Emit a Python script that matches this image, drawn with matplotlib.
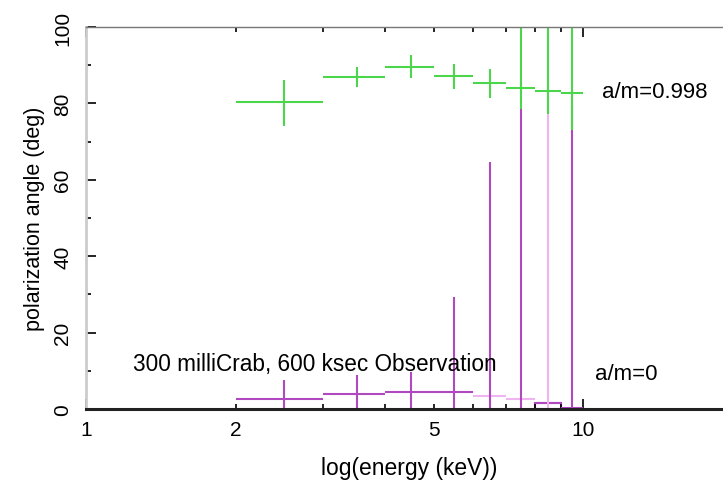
import matplotlib
matplotlib.use("Agg")
import matplotlib.pyplot as plt
import numpy as np

matplotlib.rcParams.update({
    'font.family': ['Liberation Sans', 'DejaVu Sans'],
    'font.size': 15,
})

# energy bins (keV): centres and half widths
energy = [2.5, 3.5, 4.5, 5.5, 6.5, 7.5, 8.5, 9.5]
half_width = [0.5, 0.5, 0.5, 0.5, 0.5, 0.5, 0.5, 0.5]

# a/m = 0.998
angle_spin = [80.3, 87.0, 89.6, 87.1, 85.3, 84.0, 83.3, 82.7]
err_spin_lo = [6.3, 2.6, 3.0, 3.4, 3.8, 5.5, 6.1, 9.7]
err_spin_hi = [5.7, 2.6, 3.0, 3.2, 3.8, 25.0, 30.0, 30.0]

# a/m = 0
angle_norot = [2.5, 3.9, 4.5, 4.5, 3.5, 2.6, 1.6, 0.3]
err_norot = [5.2, 5.0, 5.2, 24.8, 61.2, 76.4, 100.0, 79.2]

green = '#4cd64c'
purple = '#b048c0'
pale = '#f0b4f0'


def main():
    fig = plt.figure(figsize=(7.23, 4.81), dpi=100)
    ax = fig.add_axes([86 / 723, 71 / 481, 647 / 723, 382 / 481])

    # horizontal and vertical bars drawn separately so some can be faded
    hcol = [purple, purple, purple, purple, pale, pale, purple, purple]
    vcol = [purple, purple, purple, purple, purple, purple, pale, purple]
    for i in range(len(energy)):
        ax.errorbar(energy[i], angle_norot[i], xerr=half_width[i],
                    fmt='none', ecolor=hcol[i], elinewidth=1.5, capsize=0)
        ax.errorbar(energy[i], angle_norot[i], yerr=err_norot[i],
                    fmt='none', ecolor=vcol[i], elinewidth=1.5, capsize=0)
    ax.bar(energy[6], angle_norot[6], width=2 * half_width[6],
           fill=False, edgecolor=purple, linewidth=1.5)

    ax.errorbar(energy, angle_spin, xerr=half_width,
                yerr=[err_spin_lo, err_spin_hi],
                fmt='none', ecolor=green, elinewidth=1.5, capsize=0)

    ax.set_xscale('log')
    ax.set_xlim(1, 20)
    ax.set_ylim(0, 100)

    ax.set_xticks([1, 10], ['1', '10'])
    ax.set_xticks([2, 3, 4, 5, 6, 7, 8, 9],
                  ['2', '', '', '5', '', '', '', ''], minor=True)
    ax.set_yticks([0, 20, 40, 60, 80, 100])
    ax.set_yticks([10, 30, 50, 70, 90], minor=True)

    ax.tick_params(which='both', direction='in', top=True, right=True,
                   labelsize=15, colors='black')
    ax.tick_params(which='major', length=7, width=1.2)
    ax.tick_params(which='minor', length=3.5, width=1.2)
    ax.tick_params(axis='x', which='both', pad=8)
    ax.tick_params(axis='y', which='both', pad=10)
    for lbl in ax.get_yticklabels():
        lbl.set_rotation(90)
        lbl.set_va('center')

    ax.spines['left'].set_color('#cccccc')
    ax.spines['left'].set_linewidth(2)
    ax.spines['bottom'].set_color('#222222')
    ax.spines['bottom'].set_linewidth(2.2)
    ax.spines['top'].set_color('#777777')
    ax.spines['top'].set_linewidth(1)

    ax.set_xlabel('log(energy (keV))', fontsize=16.5, labelpad=12)
    ax.set_ylabel('polarization angle (deg)', fontsize=15.5, labelpad=6)

    ax.text(10.92, 83.0, 'a/m=0.998', fontsize=16, va='center')
    ax.text(10.57, 9.2, 'a/m=0', fontsize=16, va='center')
    ax.text(1.243, 11.8, '300 milliCrab, 600 ksec Observation',
            fontsize=16.3, va='center')

    fig.savefig('out.png', dpi=100)


if __name__ == "__main__":
    main()
